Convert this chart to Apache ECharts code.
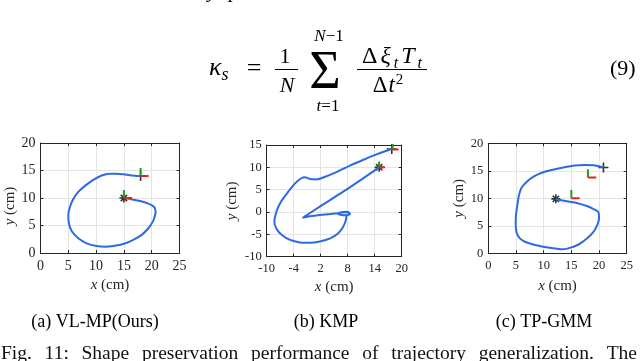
<!DOCTYPE html>
<html>
<head>
<meta charset="utf-8">
<script src="https://cdn.jsdelivr.net/npm/echarts@6/dist/echarts.min.js"></script>
<style>
  html, body { margin: 0; padding: 0; background: #fff; }
  #chart { width: 640px; height: 361px; }
</style>
</head>
<body>
<div id="chart"></div>
<script>
// trajectories in cm (start marker -> end marker)
const vlmpPath = [[15,10],[16.1,9.8],[17.9,9.45],[19.4,8.97],[20.4,8.4],[20.7,7.6],[20.6,6.8],[20.2,5.7],
  [19.4,4.5],[18.2,3.3],[16.7,2.4],[14.9,1.64],[13.1,1.27],[11.6,1.15],[10.1,1.27],[8.3,1.76],[6.8,2.67],
  [5.6,4.0],[5.1,5.4],[5.0,6.9],[5.3,8.4],[5.9,9.8],[6.8,11.1],[8.0,12.2],[9.5,13.3],[11.0,14.1],[12.5,14.4],
  [13.7,14.4],[14.9,14.3],[16.4,14.1],[18,14]];
const kmpPath = [[15,10],[11.5,7.6],[7.0,4.55],[1.8,1.2],[-2.0,-1.3],[-0.4,-0.95],[1.8,-0.66],[4.1,-0.45],
  [6.3,-0.2],[8.1,0.0],[8.5,-0.5],[7.0,-0.7],[5.9,-0.45],[6.3,-0.1],[7.8,0.05],[8.5,-0.3],[7.8,-0.8],
  [7.6,-1.8],[7.0,-3.3],[5.9,-4.75],[4.1,-5.9],[1.8,-6.6],[-0.4,-6.9],[-2.6,-6.8],[-4.8,-6.25],[-6.7,-5.1],
  [-7.8,-3.8],[-8.3,-2.2],[-7.8,0.2],[-6.7,2.5],[-5.2,4.55],[-3.7,6.4],[-2.4,7.5],[-1.5,7.8],[-0.4,7.4],
  [1.1,7.3],[3.0,7.9],[5.6,9.0],[8.5,10.4],[11.5,11.7],[14.4,12.9],[17.8,14.1]];
const tpgmmPath = [[12.2,9.9],[12.95,9.7],[14.45,9.4],[15.97,9.15],[17.8,8.6],[19.0,8.05],[19.9,7.45],
  [20.0,6.36],[19.7,5.15],[19.0,3.9],[17.8,2.7],[16.3,1.6],[14.45,0.9],[13.25,0.72],[11.75,0.9],[9.9,1.2],
  [8.1,1.6],[6.6,2.1],[5.7,2.7],[5.1,3.8],[4.95,5.45],[5.0,6.96],[5.25,8.8],[5.55,10.6],[6.0,11.9],
  [6.95,13.0],[8.1,13.9],[9.65,14.65],[11.45,15.15],[13.55,15.6],[15.65,15.95],[17.45,16.05],[19.0,16.0],
  [20.2,15.8],[20.8,15.6]];

// frame origins (green = y, red = x) and their arm length in cm
const vlmpFrames = [[15,10],[18,14]];
const kmpFrames = [[15,10],[18,14]];
const tpgmmFrames = [[15,10],[18,13.8]];
const frameArm = [1.45, 1.3, 1.5];

const xTicks1 = [0,5,10,15,20,25];
const yTicks1 = [0,5,10,15,20];
const xTicks2 = [-10,-4,2,8,14,20];
const yTicks2 = [-10,-5,0,5,10,15];
const xTicks3 = [0,5,10,15,20,25];
const yTicks3 = [0,5,10,15,20];

const subCaptions = ['(a) VL-MP(Ours)', '(b) KMP', '(c) TP-GMM'];
const figCaption = 'Fig. 11: Shape preservation performance of trajectory generalization. The';

const serif = '"Liberation Serif", "Times New Roman", serif';
const ink = '#262626';
const gridGray = '#e4e4e4';

const chart = echarts.init(document.getElementById('chart'));

const measure = document.createElement('canvas').getContext('2d');
function textWidth(text, size, italic) {
  measure.font = (italic ? 'italic ' : '') + size + 'px "Liberation Serif"';
  return measure.measureText(text).width;
}

// lay out a row of text pieces on a shared baseline: [text, size, italic, dy]
function mathRow(parts, x, base, align, gap) {
  gap = gap || 0;
  const widths = parts.map(p => textWidth(p[0], p[1], p[2]));
  const total = widths.reduce((a, b) => a + b, 0) + gap * (parts.length - 1);
  let cx = align === 'center' ? x - total / 2 : x;
  return parts.map((p, k) => {
    const el = {
      type: 'text', x: cx, y: base + (p[3] || 0) - 0.34 * p[1], silent: true,
      style: { text: p[0], fontSize: p[1], fontStyle: p[2] ? 'italic' : 'normal', fontFamily: serif,
        fill: '#000', align: 'left', verticalAlign: 'middle' }
    };
    cx += widths[k] + gap;
    return el;
  });
}

function hBar(x1, x2, y) {
  return { type: 'line', silent: true, shape: { x1: x1, y1: y, x2: x2, y2: y }, style: { stroke: '#000', lineWidth: 1 } };
}

function justifiedLine(text, x1, x2, base, size) {
  const words = text.split(' ');
  const widths = words.map(w => textWidth(w, size, false));
  const gap = (x2 - x1 - widths.reduce((a, b) => a + b, 0)) / (words.length - 1);
  let cx = x1;
  return words.map((w, k) => {
    const el = { type: 'text', x: cx, y: base - 0.34 * size, silent: true,
      style: { text: w, fontSize: size, fontFamily: serif, fill: '#111', align: 'left', verticalAlign: 'middle' } };
    cx += widths[k] + gap;
    return el;
  });
}

const grids = [
  { left: 40.5, top: 143, width: 139, height: 110 },
  { left: 266.7, top: 145, width: 135, height: 111.7 },
  { left: 488.3, top: 143.3, width: 138.4, height: 110 }
];

function axisName(letter) { return '{i|' + letter + '} (cm)'; }
function nameStyle(extra) {
  return Object.assign({ fontFamily: serif, fontSize: 15, color: ink,
    rich: { i: { fontFamily: serif, fontSize: 15, fontStyle: 'italic', color: ink } } }, extra || {});
}

function makeX(i, ticks, fs, gap) {
  const base = { gridIndex: i, type: 'value', min: ticks[0], max: ticks[ticks.length - 1] };
  return [
    Object.assign({}, base, {
      position: 'bottom', name: axisName('x'), nameLocation: 'middle', nameGap: gap, nameTextStyle: nameStyle(),
      axisLine: { show: true, onZero: false, lineStyle: { color: ink, width: 1 } },
      axisTick: { show: true, inside: true, length: 3, customValues: ticks, lineStyle: { color: ink } },
      axisLabel: { customValues: ticks, fontFamily: serif, fontSize: fs, color: ink, margin: 6 },
      splitLine: { show: true, showMinLine: false, showMaxLine: false, lineStyle: { color: gridGray, width: 1 } }
    }),
    Object.assign({}, base, {
      position: 'top',
      axisLine: { show: true, onZero: false, lineStyle: { color: ink, width: 1 } },
      axisTick: { show: true, inside: true, length: 3, customValues: ticks, lineStyle: { color: ink } },
      axisLabel: { show: false }, splitLine: { show: false }
    })
  ];
}

function makeY(i, ticks, fs, gap, pad) {
  const base = { gridIndex: i, type: 'value', min: ticks[0], max: ticks[ticks.length - 1] };
  return [
    Object.assign({}, base, {
      position: 'left', name: axisName('y'), nameLocation: 'middle', nameGap: gap,
      nameTextStyle: nameStyle(pad ? { padding: pad } : {}),
      axisLine: { show: true, onZero: false, lineStyle: { color: ink, width: 1 } },
      axisTick: { show: true, inside: true, length: 3, customValues: ticks, lineStyle: { color: ink } },
      axisLabel: { customValues: ticks, fontFamily: serif, fontSize: fs, color: ink, margin: 5 },
      splitLine: { show: true, showMinLine: false, showMaxLine: false, lineStyle: { color: gridGray, width: 1 } }
    }),
    Object.assign({}, base, {
      position: 'right',
      axisLine: { show: true, onZero: false, lineStyle: { color: ink, width: 1 } },
      axisTick: { show: true, inside: true, length: 3, customValues: ticks, lineStyle: { color: ink } },
      axisLabel: { show: false }, splitLine: { show: false }
    })
  ];
}

const starSymbol = 'path://M5,0L5,10M0,5L10,5M1.5,1.5L8.5,8.5M8.5,1.5L1.5,8.5';
const plusSymbol = 'path://M5,0L5,10M0,5L10,5';

function plotSeries(i, path, frames, arm) {
  const ax = { xAxisIndex: 2 * i, yAxisIndex: 2 * i };
  const out = [Object.assign({}, ax, {
    type: 'line', data: path, showSymbol: false, symbol: 'none', smooth: 0.25,
    lineStyle: { color: '#2d6ae3', width: 2 }
  })];
  frames.forEach(f => {
    out.push(Object.assign({}, ax, { type: 'line', symbol: 'none', data: [f, [f[0], f[1] + arm]],
      lineStyle: { color: '#17a817', width: 2 } }));
    out.push(Object.assign({}, ax, { type: 'line', symbol: 'none', data: [f, [f[0] + arm, f[1]]],
      lineStyle: { color: '#f01e1e', width: 2 } }));
  });
  out.push(Object.assign({}, ax, { type: 'scatter', data: [path[0]], symbol: starSymbol, symbolSize: 9,
    itemStyle: { color: 'transparent', borderColor: '#000', borderWidth: 1.6 } }));
  out.push(Object.assign({}, ax, { type: 'scatter', data: [path[path.length - 1]], symbol: plusSymbol, symbolSize: 10,
    itemStyle: { color: 'transparent', borderColor: '#000', borderWidth: 1.6 } }));
  return out;
}

const graphics = [].concat(
  // clipped descenders of the line above
  mathRow([['y', 21, true]], 208, -1),
  mathRow([['p', 21, true]], 229, -1),
  // kappa_s = 1/N sum_{t=1}^{N-1} (dxi_t T_t)/(dt^2)   (9)
  mathRow([['κ', 26, true], ['s', 18, true, 4]], 209, 77),
  mathRow([['=', 26]], 254, 78, 'center'),
  mathRow([['1', 22]], 285, 65, 'center'),
  [hBar(275, 298, 69.5)],
  mathRow([['N', 22, true]], 287, 94, 'center'),
  mathRow([['Σ', 54]], 325, 92, 'center'),
  mathRow([['N', 17, true], ['−1', 17]], 329, 42, 'center'),
  mathRow([['t', 17, true], ['=1', 17]], 328, 112, 'center'),
  mathRow([['Δ', 24], ['ξ', 24, true], ['t', 16, true, 4], ['T', 24, true], ['t', 16, true, 4]], 392, 65, 'center', 3),
  [hBar(357, 427, 69.5)],
  mathRow([['Δ', 23], ['t', 23, true], ['2', 15, false, -9]], 388, 94, 'center', 1),
  mathRow([['(9)', 22]], 610, 77),
  // sub-captions
  mathRow([[subCaptions[0], 18]], 95, 328, 'center'),
  mathRow([[subCaptions[1], 18]], 326, 328, 'center'),
  mathRow([[subCaptions[2], 18]], 544, 328, 'center'),
  justifiedLine(figCaption, 1, 637, 361, 19.5)
);

const option = {
  animation: false,
  backgroundColor: '#fff',
  grid: grids,
  xAxis: [].concat(makeX(0, xTicks1, 14, 25), makeX(1, xTicks2, 12.5, 23), makeX(2, xTicks3, 12.5, 25)),
  yAxis: [].concat(makeY(0, yTicks1, 14, 20, [0, 16, 0, 0]), makeY(1, yTicks2, 12.5, 27), makeY(2, yTicks3, 12.5, 22)),
  series: [].concat(
    plotSeries(0, vlmpPath, vlmpFrames, frameArm[0]),
    plotSeries(1, kmpPath, kmpFrames, frameArm[1]),
    plotSeries(2, tpgmmPath, tpgmmFrames, frameArm[2])
  ),
  graphic: graphics
};

chart.setOption(option);
</script>
</body>
</html>
